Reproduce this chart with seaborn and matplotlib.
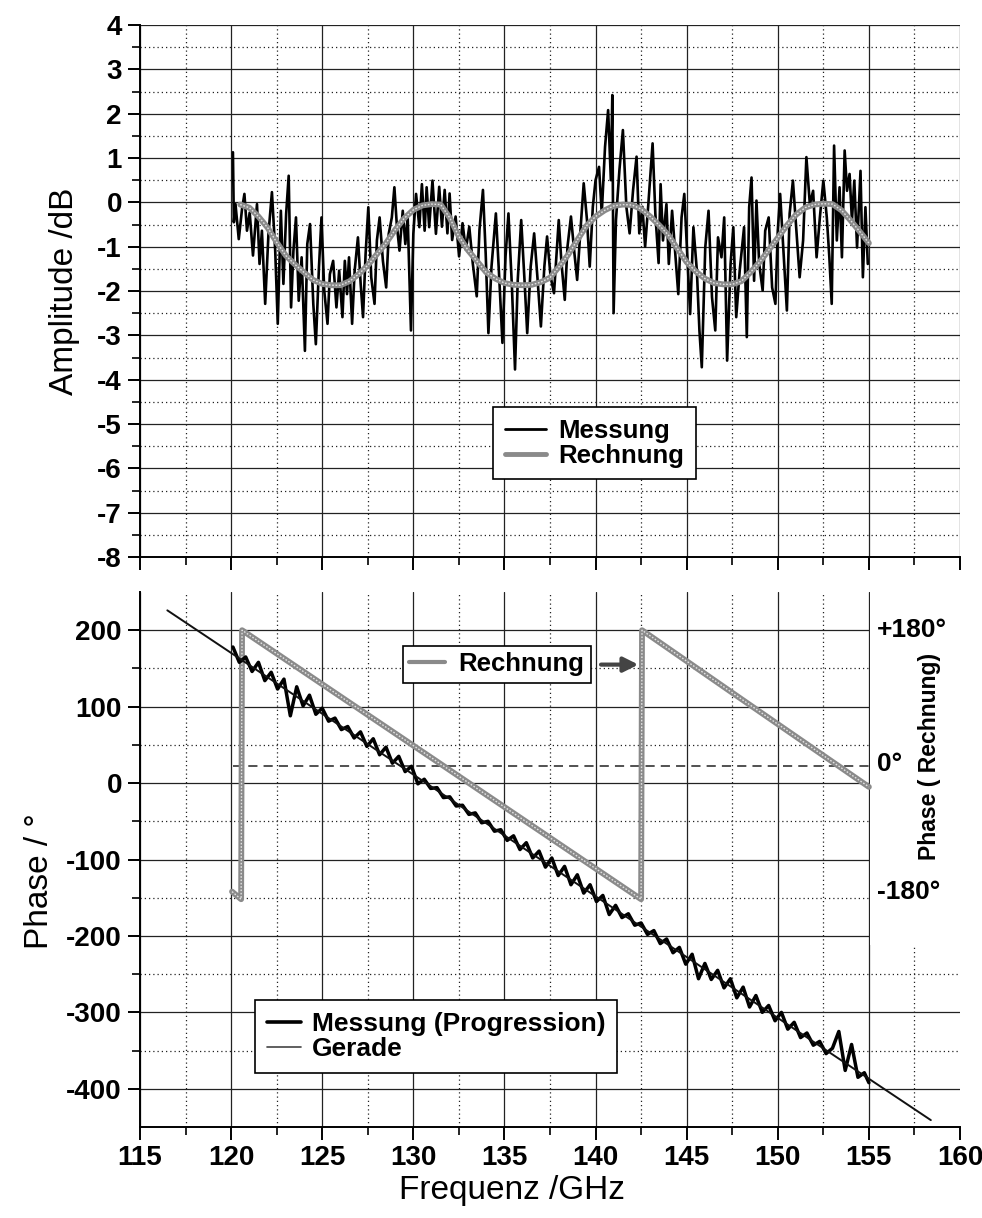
import numpy as np
import pandas as pd
import matplotlib
matplotlib.use("Agg")
import matplotlib.pyplot as plt
from matplotlib.lines import Line2D
from matplotlib.patches import Rectangle
import seaborn as sns

# --- amplitude, measured (dB) ---
amp_freq = [
    120.10, 120.15, 120.24, 120.42, 120.60, 120.73, 120.87, 121.02, 121.20, 121.42,
    121.56, 121.69, 121.87, 122.05, 122.24, 122.42, 122.56, 122.73, 122.87, 123.02,
    123.16, 123.29, 123.42, 123.56, 123.71, 123.87, 124.05, 124.18, 124.33, 124.51,
    124.65, 124.82, 124.96, 125.11, 125.29, 125.42, 125.60, 125.78, 125.93, 126.11,
    126.24, 126.36, 126.47, 126.64, 126.78, 126.96, 127.11, 127.24, 127.38, 127.53,
    127.69, 127.87, 128.00, 128.15, 128.33, 128.51, 128.65, 128.82, 128.96, 129.09,
    129.24, 129.42, 129.56, 129.69, 129.87, 130.00, 130.15, 130.33, 130.47, 130.62,
    130.73, 130.87, 131.05, 131.24, 131.42, 131.57, 131.72, 131.87, 131.99, 132.13,
    132.32, 132.51, 132.70, 132.88, 133.07, 133.26, 133.48, 133.63, 133.82, 133.97,
    134.12, 134.29, 134.53, 134.72, 134.89, 135.06, 135.22, 135.41, 135.58, 135.73,
    135.92, 136.10, 136.25, 136.44, 136.63, 136.82, 137.00, 137.19, 137.34, 137.53,
    137.72, 137.85, 137.98, 138.13, 138.31, 138.46, 138.65, 138.84, 138.99, 139.16,
    139.35, 139.53, 139.68, 139.85, 140.00, 140.19, 140.34, 140.52, 140.69, 140.84,
    140.92, 140.99, 141.12, 141.31, 141.50, 141.69, 141.87, 142.06, 142.25, 142.40,
    142.57, 142.72, 142.90, 143.13, 143.28, 143.46, 143.57, 143.70, 143.89, 144.02,
    144.20, 144.35, 144.54, 144.72, 144.87, 145.06, 145.19, 145.37, 145.56, 145.70,
    145.83, 146.02, 146.20, 146.39, 146.57, 146.72, 146.91, 147.06, 147.22, 147.41,
    147.56, 147.72, 147.91, 148.15, 148.30, 148.43, 148.56, 148.70, 148.83, 148.98,
    149.17, 149.31, 149.50, 149.69, 149.87, 150.00, 150.13, 150.31, 150.50, 150.65,
    150.83, 151.02, 151.20, 151.39, 151.57, 151.76, 151.94, 152.13, 152.31, 152.50,
    152.69, 152.83, 152.96, 153.09, 153.24, 153.39, 153.52, 153.67, 153.80, 153.94,
    154.07, 154.20, 154.35, 154.54, 154.67, 154.81, 154.94,
]
amp_meas = [
    1.13, -0.45, -0.04, -0.83, -0.15, 0.19, -0.64, -0.23, -1.20, -0.04,
    -1.39, -0.64, -2.29, -0.71, 0.23, -1.09, -2.74, -0.19, -1.84, -0.26,
    0.60, -2.37, -1.09, -0.34, -2.22, -1.24, -3.35, -0.94, -0.49, -2.29,
    -3.20, -1.47, -0.34, -1.99, -2.74, -1.62, -1.32, -2.37, -1.54, -2.59,
    -1.32, -2.07, -1.24, -2.74, -1.54, -0.79, -1.84, -2.59, -1.17, -0.11,
    -1.69, -2.29, -0.86, -0.34, -1.32, -1.92, -0.71, -0.34, 0.34, -0.49,
    -1.09, -0.19, -0.94, -0.34, -2.89, -0.71, 0.19, -0.56, 0.41, -0.64,
    0.34, -0.56, 0.49, -0.71, 0.35, -0.55, 0.28, -0.70, 0.20, -0.85,
    -0.32, -1.22, -0.47, -1.07, -0.55, -1.37, -2.12, -0.62, 0.28, -1.15,
    -2.95, -1.45, -0.25, -1.75, -3.17, -1.22, -0.25, -1.90, -3.77, -1.75,
    -0.40, -1.75, -2.95, -1.45, -0.70, -1.75, -2.80, -1.45, -0.77, -1.67,
    -2.05, -1.22, -0.40, -1.37, -2.20, -1.00, -0.32, -1.15, -1.75, -0.70,
    0.43, -0.40, -1.45, -0.10, 0.50, 0.80, -0.25, 1.25, 2.08, 0.50,
    2.42, -2.50, -0.40, 0.73, 1.63, -0.10, -0.70, 0.28, 1.03, -0.70,
    -0.10, -1.00, -0.02, 1.33, -0.25, -1.37, 0.41, -0.86, -0.04, -1.39,
    -0.19, -1.02, -2.07, -0.34, 0.19, -1.39, -2.52, -0.56, -1.54, -2.89,
    -3.72, -1.02, -0.19, -2.14, -2.89, -0.79, -1.24, -0.34, -3.57, -1.39,
    -0.56, -2.59, -1.54, -0.56, -3.04, -0.11, 0.56, -1.77, 0.04, -1.39,
    -1.99, -0.64, -0.34, -1.92, -2.29, -0.64, 0.19, -1.09, -2.44, -0.26,
    0.49, -0.64, -1.69, -0.86, 1.02, -0.04, 0.26, -1.24, -0.34, 0.49,
    -0.34, -1.24, -2.29, 1.28, -0.86, 0.34, -1.24, 1.17, 0.26, 0.64,
    -0.41, 0.49, -1.02, 0.71, -1.69, -0.11, -1.39,
]

# --- amplitude, calculated (dB) ---
calc_freq = [
    120.5, 121.0, 121.5, 122.0, 122.5, 123.0, 123.5, 124.0, 124.5, 125.0,
    125.5, 126.0, 126.5, 127.0, 127.5, 128.0, 128.5, 129.0, 129.5, 130.0,
    130.5, 131.0, 131.5, 132.0, 132.5, 133.0, 133.5, 134.0, 134.5, 135.0,
    135.5, 136.0, 136.5, 137.0, 137.5, 138.0, 138.5, 139.0, 139.5, 140.0,
    140.5, 141.0, 141.5, 142.0, 142.5, 143.0, 143.5, 144.0, 144.5, 145.0,
    145.5, 146.0, 146.5, 147.0, 147.5, 148.0, 148.5, 149.0, 149.5, 150.0,
    150.5, 151.0, 151.5, 152.0, 152.5, 153.0, 153.5, 154.0, 154.5, 155.0,
]
calc_amp = [
    -0.05, -0.12, -0.32, -0.57, -0.90, -1.20, -1.40, -1.58, -1.75, -1.84,
    -1.87, -1.87, -1.78, -1.62, -1.42, -1.17, -0.92, -0.62, -0.36, -0.17,
    -0.07, -0.04, -0.05, -0.35, -0.77, -1.08, -1.33, -1.58, -1.72, -1.82,
    -1.86, -1.87, -1.86, -1.80, -1.70, -1.45, -1.18, -0.85, -0.53, -0.32,
    -0.18, -0.08, -0.05, -0.06, -0.15, -0.32, -0.52, -0.74, -1.05, -1.35,
    -1.56, -1.72, -1.82, -1.85, -1.85, -1.78, -1.58, -1.35, -1.08, -0.80,
    -0.52, -0.28, -0.12, -0.05, -0.03, -0.04, -0.18, -0.41, -0.66, -0.92,
]

# --- phase, measured progression (deg) ---
phase_freq = [
    120.10, 120.45, 120.80, 121.15, 121.50, 121.85, 122.20, 122.55, 122.90, 123.25,
    123.60, 123.95, 124.30, 124.65, 125.00, 125.35, 125.70, 126.05, 126.40, 126.75,
    127.10, 127.45, 127.80, 128.15, 128.50, 128.85, 129.20, 129.55, 129.90, 130.25,
    130.60, 130.95, 131.30, 131.65, 132.00, 132.35, 132.70, 133.05, 133.40, 133.75,
    134.10, 134.45, 134.80, 135.15, 135.50, 135.85, 136.20, 136.55, 136.90, 137.25,
    137.60, 137.95, 138.30, 138.65, 139.00, 139.35, 139.70, 140.05, 140.40, 140.75,
    141.10, 141.45, 141.80, 142.15, 142.50, 142.85, 143.20, 143.55, 143.90, 144.25,
    144.60, 144.95, 145.30, 145.65, 146.00, 146.35, 146.70, 147.05, 147.40, 147.75,
    148.10, 148.45, 148.80, 149.15, 149.50, 149.85, 150.20, 150.55, 150.90, 151.25,
    151.60, 151.95, 152.30, 152.65, 153.00, 153.35, 153.70, 154.05, 154.40, 154.75,
    155.00,
]
phase_meas = [
    178, 158, 165, 146, 158, 134, 145, 123, 136, 88,
    126, 101, 115, 90, 98, 81, 85, 70, 74, 59,
    67, 48, 58, 37, 47, 26, 35, 15, 22, -1,
    5, -7, -6, -19, -18, -30, -29, -41, -39, -52,
    -50, -63, -61, -75, -69, -87, -78, -98, -89, -110,
    -98, -121, -109, -133, -120, -144, -133, -155, -147, -172,
    -160, -176, -171, -186, -183, -198, -193, -210, -204, -222,
    -215, -237, -224, -256, -236, -257, -245, -268, -256, -281,
    -267, -293, -278, -300, -291, -311, -300, -322, -313, -333,
    -327, -343, -338, -354, -347, -325, -376, -342, -385, -379,
    -392,
]

# --- straight fit line ---
gerade_freq = [116.5, 158.4]
gerade_phase = [226, -441]

# --- calculated phase (wrapped) ---
calc_phase_freq = [120.05, 120.55, 120.60, 131.0, 142.50, 142.55, 148.0, 155.0]
calc_phase = [-142, -152, 200, 33, -152, 200, 110, -5]

# dashed 0 deg reference of the calculated phase
zero_freq = [120.1, 155.0]
zero_phase = [22, 22]

x_major = [115, 120, 125, 130, 135, 140, 145, 150, 155, 160]
x_minor = [117.5, 122.5, 127.5, 132.5, 137.5, 142.5, 147.5, 152.5, 157.5]
amp_ticks = [4, 3, 2, 1, 0, -1, -2, -3, -4, -5, -6, -7, -8]
amp_minor = [3.5, 2.5, 1.5, 0.5, -0.5, -1.5, -2.5, -3.5, -4.5, -5.5, -6.5, -7.5]
phase_ticks = [200, 100, 0, -100, -200, -300, -400]
phase_minor = [150, 50, -50, -150, -250, -350]
right_labels = ['+180°', '0°', '-180°']
right_label_pos = [200, 25, -142]

sns.set_style("ticks")
plt.rcParams['font.family'] = ['Liberation Sans', 'DejaVu Sans']
plt.rcParams.update({'text.color': 'black', 'axes.labelcolor': 'black',
                     'xtick.color': 'black', 'ytick.color': 'black'})

CALC_GRAY = '#8a8a8a'
HATCH = '#e2e2e2'


def style_axes(ax, yticks, yminor, ylim):
    ax.set_xlim(115, 160)
    ax.set_ylim(*ylim)
    ax.set_xticks(x_major)
    ax.set_xticks(x_minor, minor=True)
    ax.set_yticks(yticks)
    ax.set_yticks(yminor, minor=True)
    ax.set_yticklabels([str(v) for v in yticks], fontsize=20, fontweight='bold', color='black')
    ax.set_axisbelow(True)
    ax.grid(True, which='major', color='#222222', lw=0.9, ls='-')
    ax.grid(True, which='minor', color='#222222', lw=0.9, ls=(0, (1, 2.4)))
    for side in ['top', 'right']:
        ax.spines[side].set_visible(False)
    for side in ['left', 'bottom']:
        ax.spines[side].set_linewidth(1.4)
        ax.spines[side].set_color('black')
    ax.tick_params(which='major', direction='out', length=9, width=1.4, color='black', pad=4)
    ax.tick_params(which='minor', direction='out', length=6, width=1.2, color='black')


def draw_calc(ax, x, y):
    sns.lineplot(x=x, y=y, ax=ax, color=CALC_GRAY, lw=4.2, estimator=None, sort=False,
                 legend=False, zorder=3)
    sns.lineplot(x=x, y=y, ax=ax, color=HATCH, lw=1.0, ls=(0, (1.2, 1.2)),
                 estimator=None, sort=False, legend=False, zorder=3.1)


fig = plt.figure(figsize=(9.82, 12.18), dpi=100)
ax1 = fig.add_axes([140 / 982, 1 - 557 / 1218, 820 / 982, 532 / 1218])
ax2 = fig.add_axes([140 / 982, 1 - 1127 / 1218, 820 / 982, 535 / 1218])

# ---------- amplitude ----------
amp_df = pd.DataFrame({'f': amp_freq, 'a': amp_meas})
calc_df = pd.DataFrame({'f': calc_freq, 'a': calc_amp})
sns.lineplot(data=amp_df, x='f', y='a', ax=ax1, color='black', lw=1.9,
             estimator=None, sort=False, legend=False, zorder=2.5)
draw_calc(ax1, calc_df['f'], calc_df['a'])
style_axes(ax1, amp_ticks, amp_minor, (-8, 4))
ax1.tick_params(axis='x', labelbottom=False)
ax1.set_xlabel('')
ax1.set_ylabel('Amplitude /dB', fontsize=24, va='center')
ax1.yaxis.set_label_coords(-0.0915, 0.5)

h_top = [Line2D([], [], color='black', lw=2.0), Line2D([], [], color=CALC_GRAY, lw=3.5)]
leg = ax1.legend(h_top, ['Messung', 'Rechnung'], loc='upper left',
                 bbox_to_anchor=(0.4305, 0.282), borderaxespad=0,
                 prop={'weight': 'bold', 'size': 18.5}, handlelength=1.6,
                 handletextpad=0.5, labelspacing=0.05, borderpad=0.45,
                 fancybox=False, edgecolor='black', framealpha=1)
leg.get_frame().set_linewidth(1.2)

# ---------- phase ----------
phase_df = pd.DataFrame({'f': phase_freq, 'p': phase_meas})
sns.lineplot(x=zero_freq, y=zero_phase, ax=ax2, color='#222222', lw=1.1, ls=(0, (6, 4)),
             estimator=None, legend=False, zorder=2)
draw_calc(ax2, calc_phase_freq, calc_phase)
sns.lineplot(x=gerade_freq, y=gerade_phase, ax=ax2, color='#111111', lw=1.4,
             estimator=None, legend=False, zorder=3.5)
sns.lineplot(data=phase_df, x='f', y='p', ax=ax2, color='black', lw=2.5,
             estimator=None, sort=False, legend=False, zorder=3.4)
style_axes(ax2, phase_ticks, phase_minor, (-450, 250))
ax2.xaxis.get_gridlines()[-1].set_visible(False)
ax2.set_xticklabels([str(v) for v in x_major], fontsize=20, fontweight='bold', color='black')
ax2.set_ylabel('Phase / °', fontsize=24, va='center')
ax2.yaxis.set_label_coords(-0.122, 0.46)
ax2.set_xlabel('Frequenz /GHz', fontsize=24, va='center')
ax2.xaxis.set_label_coords(0.4537, -0.118)

# blank area behind the right-hand labels
ax2.add_patch(Rectangle((155.08, -212), 6, 470, facecolor='white', edgecolor='none', zorder=1))
for lbl, pos in zip(right_labels, right_label_pos):
    ax2.text(155.45, pos, lbl, fontsize=19, fontweight='bold', ha='left', va='center', zorder=4)
ax2.text(158.35, 35, 'Phase ( Rechnung)', rotation=90, fontsize=16.5, fontweight='bold',
         ha='center', va='center', zorder=4)

h_bot = [Line2D([], [], color='black', lw=2.6), Line2D([], [], color='#444444', lw=1.2)]
leg1 = ax2.legend(h_bot, ['Messung (Progression)', 'Gerade'], loc='upper left',
                  bbox_to_anchor=(0.140, 0.237), borderaxespad=0,
                  prop={'weight': 'bold', 'size': 19}, handlelength=1.3,
                  handletextpad=0.4, labelspacing=0.05, borderpad=0.45,
                  fancybox=False, edgecolor='black', framealpha=1)
leg1.get_frame().set_linewidth(1.2)
ax2.add_artist(leg1)
leg2 = ax2.legend([Line2D([], [], color=CALC_GRAY, lw=3.0)], ['Rechnung'], loc='upper left',
                  bbox_to_anchor=(0.3207, 0.899), borderaxespad=0,
                  prop={'weight': 'bold', 'size': 18.5}, handlelength=1.4,
                  handletextpad=0.5, borderpad=0.25,
                  fancybox=False, edgecolor='black', framealpha=1)
leg2.get_frame().set_linewidth(1.2)
ax2.annotate('', xy=(142.35, 155), xytext=(140.3, 155),
             arrowprops=dict(arrowstyle='-|>', color='#444444', lw=3, mutation_scale=22,
                             shrinkA=0, shrinkB=0), zorder=5)

fig.savefig('out.png', dpi=100)
